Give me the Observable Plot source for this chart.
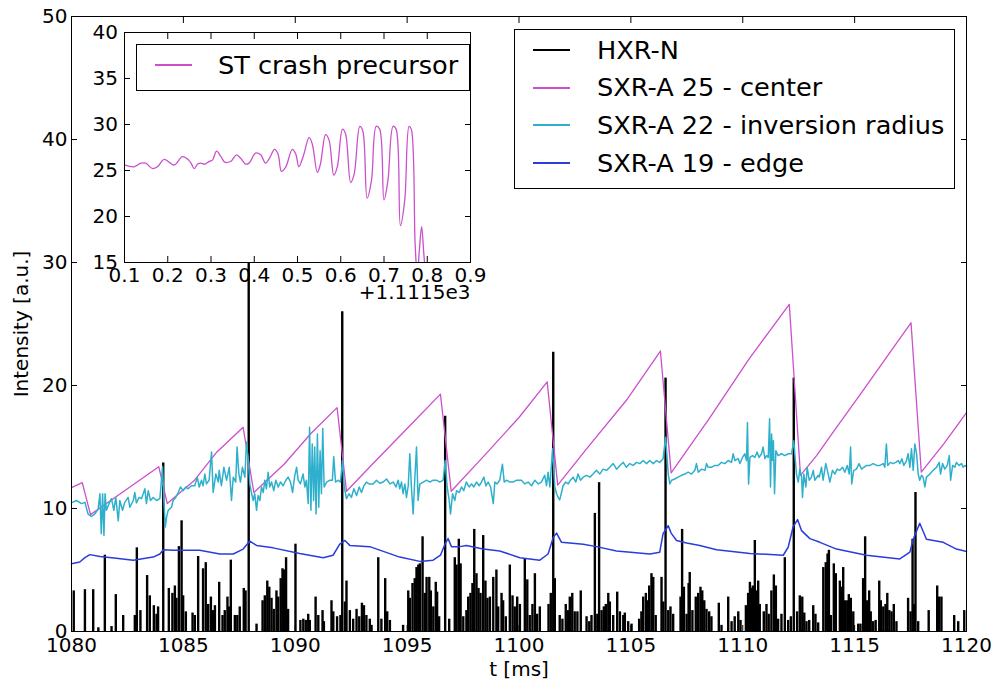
<!DOCTYPE html>
<html><head><meta charset="utf-8">
<script src="https://cdn.jsdelivr.net/npm/d3@7"></script>
<script src="https://cdn.jsdelivr.net/npm/@observablehq/plot@0.6"></script>
<style>
html,body{margin:0;padding:0;background:#fff;}
#wrap{position:relative;width:998px;height:684px;overflow:hidden;font-family:"DejaVu Sans",sans-serif;}
#main,#inset{position:absolute;}
#main{left:0;top:0;}
#inset{left:74px;top:22px;}
.legend{position:absolute;box-sizing:border-box;border:1px solid #000;background:#fff;}
.legend .sw{position:absolute;left:18px;width:37px;}
.legend .lab{position:absolute;font-size:25.6px;line-height:30px;white-space:nowrap;color:#000;font-family:"DejaVu Sans",sans-serif;}
</style></head>
<body><div id="wrap"><div id="main"></div><div id="inset"></div><div id="legMain" class="legend"></div><div id="legInset" class="legend"></div></div>
<script>
// ---------- data ----------
const seriesNames = ["HXR-N", "SXR-A 25 - center", "SXR-A 22 - inversion radius", "SXR-A 19 - edge"];
const insetName = "ST crash precursor";
const xLabel = "t [ms]";
const yLabel = "Intensity [a.u.]";
const insetOffsetLabel = "+1.1115e3";
const mainXTicks = [1080, 1085, 1090, 1095, 1100, 1105, 1110, 1115, 1120];
const mainYTicks = [0, 10, 20, 30, 40, 50];
const insetXTicks = [0.1, 0.2, 0.3, 0.4, 0.5, 0.6, 0.7, 0.8, 0.9];
const insetYTicks = [15, 20, 25, 30, 35, 40];

// HXR-N spikes [t (ms), intensity]
const hxr = [
[1080.10,3.3],[1080.60,3.4],[1080.97,3.4],[1081.20,0.3],[1081.49,6.2],[1081.79,0.4],[1081.98,3.0],[1082.31,1.3],[1082.83,1.3],[1082.92,6.8],[1083.08,1.7],[1083.38,4.55],[1083.50,2.9],[1083.68,2.1],[1083.80,1.4],[1083.87,2.0],
[1084.10,13.7],[1084.35,3.5],[1084.51,3.1],[1084.62,3.7],[1084.69,2.7],[1084.80,6.9],[1084.92,9.0],[1084.99,2.9],[1085.11,1.6],[1085.41,1.5],[1085.51,1.3],[1085.66,6.1],[1085.88,5.1],[1086.00,5.6],[1086.11,2.2],[1086.23,2.8],[1086.33,1.7],[1086.41,2.1],[1086.60,4.0],
[1086.75,1.3],[1086.85,1.7],[1086.97,2.8],[1087.03,2.0],[1087.12,5.8],[1087.30,1.3],[1087.41,1.3],[1087.52,2.0],[1087.70,3.5],[1087.78,3.3],[1087.92,33.0],
[1088.27,0.6],[1088.54,2.5],[1088.64,2.9],[1088.75,4.1],[1088.84,3.6],[1088.94,2.7],[1089.04,1.8],[1089.16,3.3],[1089.24,2.8],[1089.35,4.3],[1089.43,5.1],[1089.50,5.0],[1089.59,6.0],[1089.68,1.8],[1090.01,7.1],[1090.23,0.9],[1090.36,1.0],[1090.47,0.9],[1090.58,1.4],[1090.65,0.9],[1090.91,2.8],[1091.03,1.3],[1091.22,1.7],[1091.28,0.8],[1091.62,2.5],[1091.70,1.6],[1091.87,1.2],[1092.02,1.3],[1092.10,26.0],
[1092.22,2.4],[1092.29,4.1],[1092.44,1.7],[1092.59,1.0],[1092.74,1.8],[1092.86,1.2],[1092.98,2.3],[1093.07,2.1],[1093.18,1.3],[1093.33,1.0],[1093.41,0.5],[1093.71,6.0],[1093.85,1.0],[1094.02,4.3],[1094.11,1.6],[1094.23,0.9],[1094.82,0.5],[1095.05,3.3],[1095.12,2.7],[1095.24,3.9],[1095.34,4.3],[1095.42,5.2],[1095.50,5.4],[1095.57,5.5],[1095.69,7.7],[1095.79,3.1],[1095.87,4.4],[1095.99,4.4],[1096.06,3.3],[1096.17,2.0],[1096.28,4.0],[1096.34,3.2],[1096.43,1.2],[1096.70,17.5],
[1096.88,1.0],[1097.13,6.0],[1097.21,5.4],[1097.31,7.5],[1097.39,5.5],[1097.51,1.2],[1097.65,1.7],[1097.73,2.8],[1097.83,3.1],[1097.92,3.9],[1098.00,8.3],[1098.10,4.7],[1098.19,3.5],[1098.28,3.1],[1098.40,7.8],[1098.50,4.1],[1098.59,2.7],[1098.70,2.8],[1098.85,4.4],[1098.99,5.0],[1099.07,2.0],[1099.22,3.1],[1099.29,2.5],[1099.41,1.2],[1099.59,5.4],[1099.71,2.9],[1099.81,2.0],[1099.92,2.8],[1100.04,2.2],
[1100.26,5.9],[1100.37,4.2],[1100.48,1.3],[1100.60,2.2],[1100.71,4.7],[1100.81,1.4],[1100.93,2.0],[1101.32,2.2],[1101.42,3.1],[1101.53,22.7],[1101.60,4.3],[1101.82,1.3],[1101.94,1.0],[1102.09,2.2],[1102.20,1.7],[1102.27,2.8],[1102.38,3.1],[1102.49,1.6],[1102.61,1.6],[1102.76,3.3],[1103.02,1.2],[1103.14,0.8],[1103.24,1.3],[1103.39,9.6],[1103.50,1.4],[1103.58,12.1],[1103.69,1.7],[1103.79,2.0],[1103.88,2.2],[1103.99,3.1],[1104.06,2.4],[1104.21,1.3],[1104.39,3.2],[1104.51,1.6],[1104.66,1.3],[1104.73,1.5],[1104.88,0.8],[1105.03,0.6],[1105.37,1.0],[1105.47,1.6],[1105.55,2.8],[1105.67,3.1],[1105.74,2.5],[1105.82,3.7],[1105.92,4.7],[1106.00,4.4],[1106.11,1.3],[1106.37,4.4],[1106.45,2.4],[1106.55,20.6],
[1106.67,1.7],[1106.77,2.0],[1106.89,1.4],[1107.22,2.8],[1107.29,8.3],[1107.37,3.6],[1107.49,1.4],[1107.58,3.9],[1107.63,4.8],[1107.75,1.7],[1107.90,2.8],[1108.01,3.1],[1108.11,3.6],[1108.19,3.3],[1108.28,2.5],[1108.38,1.8],[1108.50,1.6],[1108.60,1.2],[1108.93,2.3],[1109.05,0.5],[1109.35,2.8],[1109.50,0.8],[1109.64,1.2],[1109.80,1.6],[1109.90,0.9],[1110.14,2.1],[1110.24,3.1],[1110.32,4.0],[1110.39,3.5],[1110.45,3.7],[1110.54,7.4],[1110.61,3.3],[1110.69,4.1],[1110.76,2.2],[1110.94,1.6],[1111.06,2.2],[1111.16,1.4],[1111.28,3.3],[1111.39,4.6],[1111.48,3.7],[1111.58,1.0],[1111.73,1.4],[1111.88,6.0],[1112.03,0.9],[1112.15,1.2],[1112.28,20.6],
[1112.43,1.6],[1112.55,2.9],[1112.66,2.8],[1112.75,1.5],[1112.85,0.8],[1112.97,0.9],[1113.15,2.1],[1113.25,1.4],[1113.37,0.7],[1113.60,5.2],[1113.71,5.6],[1113.79,6.3],[1113.85,6.6],[1113.94,1.3],[1114.07,5.5],[1114.16,4.7],[1114.34,4.1],[1114.41,3.6],[1114.49,5.2],[1114.56,2.5],[1114.67,2.5],[1114.74,3.0],[1114.83,2.7],[1114.94,1.6],[1115.16,0.6],[1115.26,0.6],[1115.38,4.3],[1115.47,7.7],[1115.56,2.5],[1115.65,3.3],[1115.72,1.6],[1115.83,0.8],[1115.94,0.9],[1116.10,4.1],[1116.17,2.5],[1116.28,2.0],[1116.38,2.2],[1116.46,3.1],[1116.55,1.7],[1116.65,1.6],[1116.75,2.2],[1116.87,0.8],[1117.39,2.7],[1117.50,1.6],[1117.59,7.5],[1117.65,2.2],[1117.72,11.3],[1117.84,0.8],[1118.31,1.7],[1118.69,3.7],[1118.78,2.8],[1118.88,2.8],[1119.45,1.3],[1119.63,0.8],[1119.90,1.7]
];

// SXR-A 25 (center) [t, intensity]
const sxr25 = [
[1080.0,11.7],[1080.48,12.1],[1080.85,9.5],[1082.5,11.6],[1083.9,13.4],[1084.28,10.4],[1085.5,12.3],[1086.5,14.6],[1087.67,16.6],[1088.15,11.3],[1089.5,13.6],[1090.7,16.1],[1091.87,18.2],[1092.29,11.4],[1093.5,13.7],[1095.0,16.5],[1096.49,19.3],[1096.97,11.4],[1098.5,14.4],[1100.0,17.4],[1101.26,20.3],[1101.73,11.9],[1103.0,14.8],[1104.8,18.8],[1106.32,22.8],[1106.8,12.9],[1108.5,17.3],[1110.3,22.2],[1112.08,26.6],[1112.58,12.7],[1113.3,14.3],[1114.0,16.1],[1115.5,19.9],[1116.7,23.0],[1117.52,25.1],[1117.98,12.95],[1119.0,15.3],[1120.0,17.8]
];

// SXR-A 22 (inversion radius) [t, intensity]
const sxr22 = [
[1080.04,10.5],[1080.22,10.65],[1080.45,10.4],[1080.60,10.5],[1080.74,9.55],[1080.89,9.35],[1081.04,9.55],[1081.19,9.95],[1081.27,11.2],[1081.33,7.95],[1081.39,11.2],[1081.45,7.8],[1081.50,11.2],[1081.56,9.85],[1081.68,10.4],[1081.79,10.8],[1081.89,9.85],[1081.98,10.9],[1082.09,9.0],[1082.16,10.65],[1082.28,9.85],[1082.38,10.5],[1082.53,10.9],[1082.61,10.1],[1082.76,10.65],[1082.83,11.3],[1082.90,10.45],[1083.02,10.9],[1083.13,10.8],[1083.28,11.6],[1083.35,10.4],[1083.43,11.45],[1083.53,10.65],[1083.65,10.9],[1083.80,10.65],[1083.95,10.8],[1084.07,13.4],[1084.13,10.65],[1084.19,8.5],[1084.25,9.3],[1084.32,9.85],[1084.47,10.1],[1084.54,10.65],[1084.66,10.9],[1084.77,11.3],[1084.87,11.75],[1084.99,11.45],[1085.11,11.75],[1085.21,11.6],[1085.36,11.85],[1085.51,11.85],[1085.62,12.55],[1085.71,11.75],[1085.81,12.3],[1085.88,11.85],[1085.96,12.8],[1086.03,12.0],[1086.15,12.3],[1086.26,14.6],[1086.33,11.3],[1086.45,12.8],[1086.56,12.15],
[1086.60,13.1],[1086.70,11.85],[1086.81,13.35],[1086.93,12.3],[1087.05,13.35],[1087.15,10.65],[1087.23,12.55],[1087.34,12.15],[1087.40,15.0],[1087.48,12.8],[1087.55,12.15],[1087.64,13.35],[1087.75,12.55],[1087.82,15.4],[1087.90,13.9],[1087.97,12.0],[1088.04,11.3],[1088.12,10.65],[1088.19,11.2],[1088.27,9.85],[1088.34,11.05],[1088.42,10.65],[1088.49,11.75],[1088.57,11.3],[1088.64,12.3],[1088.71,11.6],[1088.79,12.95],[1088.86,11.75],[1088.94,12.15],[1089.04,11.45],[1089.13,12.3],[1089.24,11.75],[1089.34,12.15],[1089.46,11.85],[1089.58,12.3],[1089.68,12.55],[1089.79,12.15],[1089.88,11.3],[1089.98,12.7],[1090.06,13.35],[1090.13,12.3],[1090.23,12.0],[1090.35,12.8],[1090.43,11.75],[1090.50,12.3],[1090.58,10.4],[1090.64,16.6],[1090.70,9.85],[1090.76,15.25],[1090.82,10.65],[1090.87,15.0],[1090.93,9.55],[1090.99,16.05],[1091.05,10.1],[1091.11,14.7],[1091.17,11.2],[1091.23,16.5],[1091.29,11.75],[1091.40,12.15],[1091.55,12.3],[1091.66,12.3],[1091.72,14.2],[1091.80,12.15],[1091.92,12.3],[1092.02,12.15],[1092.11,13.9],[1092.19,11.75],[1092.29,10.8],[1092.40,11.2],[1092.51,10.9],[1092.62,11.6],[1092.74,11.05],[1092.86,11.75],[1092.96,11.3],[1093.07,11.85],[1093.18,12.15],[1093.30,12.0],
[1093.48,12.0],[1093.63,12.3],[1093.78,12.05],[1093.93,12.15],[1094.08,12.4],[1094.23,12.0],[1094.38,12.15],[1094.50,11.75],[1094.60,12.3],[1094.67,11.6],[1094.75,12.15],[1094.82,11.2],[1094.90,12.0],[1094.97,10.9],[1095.05,11.85],[1095.12,14.45],[1095.20,11.45],[1095.27,9.55],[1095.34,12.3],[1095.42,15.0],[1095.49,10.65],[1095.57,12.0],[1095.72,12.15],[1095.87,12.3],[1096.02,12.15],[1096.16,12.3],[1096.31,12.3],[1096.46,12.15],[1096.61,12.3],[1096.70,13.9],[1096.79,11.75],[1096.88,10.65],[1096.94,9.55],[1097.03,11.2],[1097.13,10.65],[1097.21,11.45],[1097.33,11.3],[1097.43,11.75],[1097.53,11.45],[1097.65,12.15],[1097.77,11.75],[1097.88,12.0],[1097.98,11.75],[1098.10,12.15],[1098.22,11.85],[1098.32,12.15],[1098.43,12.55],[1098.52,11.85],[1098.62,12.15],[1098.73,11.75],[1098.85,10.4],[1098.92,12.15],[1099.02,12.0],[1099.14,12.3],[1099.26,13.6],[1099.34,12.15],[1099.44,12.3],[1099.59,12.15],[1099.74,12.15],[1099.89,12.3],
[1100.11,12.3],[1100.26,12.0],[1100.41,12.15],[1100.56,11.85],[1100.71,12.3],[1100.86,12.0],[1101.00,12.15],[1101.15,12.7],[1101.23,11.85],[1101.30,12.95],[1101.38,11.75],[1101.50,14.85],[1101.60,11.75],[1101.68,11.2],[1101.75,10.9],[1101.82,10.7],[1101.90,11.3],[1101.97,11.85],[1102.09,12.15],[1102.20,12.0],[1102.30,12.3],[1102.42,12.55],[1102.54,12.15],[1102.64,12.8],[1102.75,12.3],[1102.87,12.55],[1103.02,12.7],[1103.17,12.55],[1103.31,12.8],[1103.46,13.1],[1103.61,12.8],[1103.76,13.2],[1103.91,13.1],[1104.06,13.35],[1104.21,13.65],[1104.36,13.2],[1104.51,13.5],[1104.66,13.75],[1104.80,13.35],[1104.95,13.65],[1105.10,13.5],[1105.25,13.75],[1105.40,13.65],[1105.55,13.9],[1105.70,13.65],[1105.85,13.9],[1106.00,13.65],[1106.15,13.9],[1106.29,13.75],[1106.44,14.05],[1106.55,15.8],[1106.67,12.8],
[1106.74,12.0],[1106.82,12.3],[1106.96,12.4],[1107.11,12.55],[1107.26,12.7],[1107.41,12.8],[1107.56,12.95],[1107.71,12.8],[1107.86,13.1],[1107.93,13.65],[1108.01,12.95],[1108.16,13.2],[1108.31,13.1],[1108.38,13.65],[1108.45,13.35],[1108.60,13.35],[1108.75,13.5],[1108.90,13.5],[1109.05,13.75],[1109.20,13.65],[1109.35,13.9],[1109.50,13.75],[1109.57,14.45],[1109.65,13.9],[1109.80,14.05],[1109.87,13.65],[1109.99,14.15],[1110.09,14.45],[1110.17,13.9],[1110.21,17.0],[1110.26,12.0],[1110.32,14.15],[1110.44,14.3],[1110.54,14.15],[1110.64,14.6],[1110.73,14.15],[1110.84,14.45],[1110.91,15.0],[1110.99,14.05],[1111.06,14.3],[1111.14,14.15],[1111.20,17.3],[1111.24,11.75],[1111.29,16.05],[1111.33,13.9],[1111.37,15.5],[1111.42,11.2],[1111.48,14.7],[1111.58,14.3],[1111.73,14.45],[1111.88,14.3],[1112.03,14.45],[1112.18,14.45],[1112.28,15.5],[1112.40,12.8],[1112.48,12.15],[1112.55,13.2],[1112.63,12.55],[1112.67,10.9],[1112.73,12.8],[1112.82,11.75],[1112.88,13.35],[1112.97,12.3],[1113.07,12.55],[1113.15,13.1],[1113.22,12.3],[1113.37,12.7],
[1113.42,12.55],[1113.52,13.35],[1113.59,12.3],[1113.71,13.65],[1113.82,12.8],[1113.89,12.15],[1114.01,13.1],[1114.12,12.8],[1114.22,13.2],[1114.34,13.1],[1114.46,13.35],[1114.56,12.95],[1114.67,13.5],[1114.76,12.8],[1114.82,15.0],[1114.87,12.0],[1114.96,13.1],[1115.08,13.2],[1115.20,13.65],[1115.31,13.2],[1115.41,13.35],[1115.53,13.5],[1115.68,13.5],[1115.83,13.65],[1115.98,13.5],[1116.13,13.5],[1116.28,13.65],[1116.35,13.35],[1116.42,15.25],[1116.48,13.5],[1116.60,13.75],[1116.72,13.65],[1116.84,13.75],[1116.95,13.9],[1117.02,13.65],[1117.11,14.05],[1117.20,13.5],[1117.32,13.9],[1117.39,14.45],[1117.47,13.35],[1117.54,14.85],[1117.62,13.1],[1117.69,15.25],[1117.77,14.45],[1117.84,12.8],[1117.91,12.3],[1117.99,12.7],[1118.06,12.55],[1118.14,11.75],[1118.21,12.55],[1118.36,12.8],[1118.51,13.1],[1118.66,13.35],[1118.78,13.75],[1118.84,12.8],[1118.93,13.65],[1119.03,13.2],[1119.14,13.5],[1119.23,14.3],[1119.29,12.3],[1119.38,13.5],[1119.48,13.35],[1119.55,13.75],[1119.67,13.5],[1119.78,13.65],[1119.85,13.35],[1119.93,13.5],[1120.0,13.4]
];

// SXR-A 19 (edge) [t, intensity]
const sxr19 = [
[1080.0,5.5],[1080.37,5.65],[1080.6,6.0],[1080.82,6.25],[1081.27,6.1],[1082.0,5.95],[1082.76,5.8],[1083.65,6.05],[1083.95,6.3],[1084.1,6.65],[1084.54,6.6],[1085.73,6.6],[1086.63,6.3],[1087.23,6.3],[1087.67,6.7],[1087.97,7.35],[1088.27,7.0],[1089.01,6.8],[1090.2,6.35],[1091.25,6.0],[1091.69,6.2],[1091.99,7.1],[1092.22,7.4],[1092.44,7.0],[1093.33,6.9],[1094.67,6.05],[1095.57,5.7],[1096.16,5.8],[1096.49,6.2],[1096.69,7.1],[1096.83,7.55],[1096.98,6.9],[1097.36,6.9],[1097.65,7.0],[1098.4,6.7],[1099.14,6.55],[1100.04,6.0],[1100.93,5.8],[1101.3,6.3],[1101.53,7.65],[1101.68,8.0],[1101.9,7.25],[1102.87,7.1],[1103.46,6.9],[1104.36,6.55],[1105.85,6.3],[1106.29,6.45],[1106.44,7.95],[1106.67,8.6],[1106.8,8.0],[1107.04,7.4],[1107.49,7.2],[1108.08,7.0],[1108.83,6.65],[1110.32,6.35],[1111.81,6.2],[1112.03,6.85],[1112.25,8.5],[1112.45,9.1],[1112.63,8.2],[1113.0,7.55],[1113.45,7.25],[1114.19,6.7],[1115.53,6.2],[1117.02,5.9],[1117.47,6.45],[1117.62,7.5],[1117.91,8.8],[1118.21,7.5],[1118.96,7.25],[1119.55,6.7],[1120.0,6.5]
];

// Inset: ST crash precursor [t - 1111.5 ms, intensity]
const precursor = [
[0.100,25.6],[0.122,25.4],[0.138,25.8],[0.149,25.8],[0.165,25.2],[0.176,25.4],[0.192,26.2],[0.215,25.6],[0.234,26.5],[0.249,26.1],[0.255,25.7],[0.261,25.2],[0.269,25.7],[0.276,25.8],[0.286,25.7],[0.296,26.0],[0.303,26.1],[0.313,27.1],[0.323,26.5],[0.332,25.9],[0.346,26.0],[0.359,26.7],[0.369,26.3],[0.380,25.7],[0.388,25.8],[0.403,26.9],[0.415,26.7],[0.426,25.8],[0.436,26.4],[0.447,27.3],[0.455,26.8],[0.463,24.9],[0.473,25.4],[0.488,27.3],[0.496,26.8],[0.503,25.4],[0.513,26.5],[0.527,28.6],[0.534,27.9],[0.546,24.8],[0.553,25.7],[0.565,28.9],[0.573,28.3],[0.584,24.5],[0.592,25.4],[0.604,29.5],[0.611,29.0],[0.623,23.7],[0.631,24.6],[0.644,29.8],[0.651,29.3],[0.661,22.0],[0.671,23.9],[0.682,29.8],[0.690,29.5],[0.700,21.8],[0.709,23.9],[0.721,29.8],[0.728,29.5],[0.738,19.0],[0.748,21.8],[0.758,29.8],[0.763,29.5],[0.772,17.0],[0.777,13.5],[0.782,16.5],[0.787,18.9],[0.792,16.0],[0.798,12.5]
];

const colors = ["#000000", "#cc4fcc", "#2eb0cc", "#2a3cdc"];

// ---------- build ----------
const rows = a => a.map(([t, v]) => ({t, v}));
const fmtInt = d => String(d);

const mainPlot = Plot.plot({
  width: 998, height: 684,
  marginLeft: 71, marginRight: 32, marginTop: 16, marginBottom: 53,
  style: {background: "white", fontFamily: "DejaVu Sans", fontSize: "20px", color: "black"},
  x: {domain: [1080, 1120]},
  y: {domain: [0, 50]},
  marks: [
    Plot.ruleX(rows(hxr), {x: "t", y1: 0, y2: "v", stroke: colors[0], strokeWidth: 2.4, clip: true}),
    Plot.line(rows(sxr25), {x: "t", y: "v", stroke: colors[1], strokeWidth: 1.3}),
    Plot.line(rows(sxr22), {x: "t", y: "v", stroke: colors[2], strokeWidth: 1.5}),
    Plot.line(rows(sxr19), {x: "t", y: "v", stroke: colors[3], strokeWidth: 1.5}),
    Plot.frame({stroke: "black"}),
    Plot.axisX(mainXTicks, {anchor: "bottom", tickSize: -6, tickPadding: 12, tickFormat: fmtInt, fontSize: 20, label: xLabel, labelAnchor: "center", labelOffset: 44, labelArrow: "none"}),
    Plot.axisX(mainXTicks, {anchor: "top", tickSize: -6, fill: "none", label: null}),
    Plot.axisY(mainYTicks, {anchor: "left", tickSize: -6, tickPadding: 10, tickFormat: fmtInt, fontSize: 20, label: yLabel, labelAnchor: "center", labelOffset: 58, labelArrow: "none"}),
    Plot.axisY(mainYTicks, {anchor: "right", tickSize: -6, fill: "none", label: null})
  ]
});
document.getElementById("main").appendChild(mainPlot);

const insetPlot = Plot.plot({
  width: 420, height: 290,
  marginLeft: 50, marginRight: 24, marginTop: 10, marginBottom: 50,
  style: {background: "transparent", fontFamily: "DejaVu Sans", fontSize: "20px", color: "black", overflow: "visible"},
  x: {domain: [0.1, 0.9]},
  y: {domain: [15, 40]},
  marks: [
    Plot.frame({fill: "white", stroke: "none"}),
    Plot.line(rows(precursor), {x: "t", y: "v", stroke: colors[1], strokeWidth: 1.3, curve: "catmull-rom", clip: true}),
    Plot.frame({stroke: "black"}),
    Plot.axisX(insetXTicks, {anchor: "bottom", tickSize: -6, tickPadding: 11, tickFormat: d3.format(".1f"), fontSize: 20, label: null}),
    Plot.axisX(insetXTicks, {anchor: "top", tickSize: -6, fill: "none", label: null}),
    Plot.axisY(insetYTicks, {anchor: "left", tickSize: -6, tickPadding: 12.5, tickFormat: fmtInt, fontSize: 20, label: null}),
    Plot.axisY(insetYTicks, {anchor: "right", tickSize: -6, fill: "none", label: null}),
    Plot.text([insetOffsetLabel], {text: d => d, frameAnchor: "bottom-right", dy: 36, textAnchor: "end", fontSize: 20, fill: "black"})
  ]
});
document.getElementById("inset").appendChild(insetPlot);

// ---------- legends ----------
function buildLegend(el, box, entries) {
  Object.assign(el.style, {left: box.left + "px", top: box.top + "px", width: box.width + "px", height: box.height + "px"});
  entries.forEach((e, i) => {
    const cy = box.first + i * box.step;
    const sw = document.createElement("div");
    sw.className = "sw";
    Object.assign(sw.style, {top: Math.round(cy - e.w / 2) + "px", height: e.w + "px", background: e.color});
    el.appendChild(sw);
    const lab = document.createElement("div");
    lab.className = "lab";
    lab.textContent = e.label;
    Object.assign(lab.style, {left: box.textLeft + "px", top: (cy - 15.5) + "px"});
    el.appendChild(lab);
  });
}
buildLegend(document.getElementById("legMain"),
  {left: 514, top: 29, width: 441, height: 160, first: 20, step: 37.7, textLeft: 82},
  seriesNames.map((s, i) => ({label: s, color: colors[i], w: 2})));
buildLegend(document.getElementById("legInset"),
  {left: 136, top: 44, width: 334, height: 47, first: 20, step: 0, textLeft: 81},
  [{label: insetName, color: colors[1], w: 2}]);
</script>
</body></html>
